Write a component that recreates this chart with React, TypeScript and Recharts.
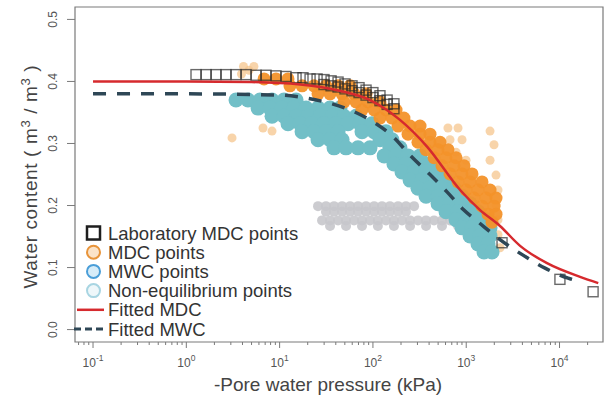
import { ComposedChart, Legend, Line, ReferenceArea, Scatter, XAxis, YAxis } from "recharts";

type Pt = [number, number];

// Each point: [-pore water pressure (kPa), water content (m3/m3)]
const labMdcPoints: Pt[] = [
  [1.27, 0.411], [1.63, 0.411], [2.08, 0.411], [2.66, 0.411], [3.41, 0.411],
  [4.37, 0.411], [5.59, 0.410], [7.15, 0.410], [9.14, 0.409], [11.7, 0.408],
  [15.0, 0.406], [17.8, 0.406], [21.2, 0.404], [25.2, 0.404], [29.9, 0.403],
  [35.6, 0.401], [42.3, 0.399], [50.2, 0.396], [59.7, 0.393], [71.0, 0.390],
  [84.4, 0.386], [100, 0.382], [119, 0.377], [142, 0.370], [168, 0.364],
  [29.9, 0.395], [35.6, 0.393], [42.3, 0.391], [50.2, 0.388], [59.7, 0.385],
  [71.0, 0.382], [84.4, 0.378], [100, 0.374], [119, 0.369], [142, 0.363],
  [168, 0.356], [2420, 0.140], [10100, 0.081], [22900, 0.061],
];

const mdcPoints: Pt[] = [
  [6.81, 0.404], [9.15, 0.404], [12.3, 0.404],
  [12.9, 0.393], [17.4, 0.393], [23.4, 0.393], [31.4, 0.393], [42.3, 0.393], [56.9, 0.393],
  [25.8, 0.380], [34.7, 0.380], [46.7, 0.380], [62.8, 0.380], [84.4, 0.380],
  [49.0, 0.367], [65.9, 0.367], [88.6, 0.367], [119, 0.367],
  [76.4, 0.354], [103, 0.354], [138, 0.354], [177, 0.354],
  [119, 0.341], [160, 0.341], [215, 0.341],
  [186, 0.328], [250, 0.328], [320, 0.328],
  [238, 0.315], [320, 0.315], [409, 0.315],
  [304, 0.302], [409, 0.302], [524, 0.302],
  [371, 0.290], [499, 0.290], [637, 0.290],
  [452, 0.277], [607, 0.277], [778, 0.277],
  [550, 0.264], [740, 0.264], [947, 0.264],
  [670, 0.251], [902, 0.251], [1154, 0.251],
  [817, 0.238], [1099, 0.238], [1477, 0.238],
  [995, 0.225], [1338, 0.225], [1800, 0.225],
  [1212, 0.212], [1630, 0.212], [2086, 0.212],
  [1477, 0.199], [1986, 0.199],
  [1713, 0.186], [2086, 0.186],
  [1890, 0.173],
];

// scattered MDC readings away from the main band
const mdcScattered: Pt[] = [
  [4.1, 0.424], [4.7, 0.418], [5.3, 0.424], [3.9, 0.412],
  [637, 0.325], [817, 0.325], [670, 0.306], [902, 0.306], [778, 0.286], [995, 0.273],
  [1800, 0.320], [1986, 0.298], [1800, 0.273], [2086, 0.249], [2192, 0.225],
  [2086, 0.201], [2192, 0.177], [2192, 0.153], [2303, 0.132],
  [6.64, 0.325], [8.29, 0.320], [3.09, 0.309],
];

const mwcPoints: Pt[] = [
  [3.41, 0.370], [4.58, 0.370], [6.17, 0.370], [8.29, 0.370], [11.15, 0.370], [15.0, 0.370],
  [5.87, 0.357], [7.89, 0.357], [10.6, 0.357], [14.3, 0.357], [19.2, 0.357], [25.8, 0.357], [34.7, 0.357], [44.4, 0.357],
  [8.29, 0.344], [11.15, 0.344], [15.0, 0.344], [20.2, 0.344], [27.1, 0.344], [36.4, 0.344], [49.0, 0.344], [65.9, 0.344],
  [12.3, 0.332], [16.6, 0.332], [22.2, 0.332], [29.9, 0.332], [40.2, 0.332], [54.1, 0.332], [72.8, 0.332], [97.8, 0.332],
  [17.4, 0.319], [23.4, 0.319], [31.4, 0.319], [42.3, 0.319], [76.4, 0.319], [103, 0.319], [138, 0.319],
  [25.8, 0.306], [34.7, 0.306], [46.7, 0.306], [119, 0.306], [160, 0.306],
  [38.3, 0.293], [51.5, 0.293], [69.2, 0.293], [93.1, 0.293], [152, 0.293], [195, 0.293],
  [132, 0.280], [177, 0.280], [238, 0.280], [320, 0.280],
  [168, 0.267], [226, 0.267], [304, 0.267], [409, 0.267],
  [205, 0.254], [276, 0.254], [371, 0.254], [499, 0.254],
  [250, 0.241], [336, 0.241], [452, 0.241], [607, 0.241],
  [304, 0.228], [409, 0.228], [550, 0.228], [740, 0.228],
  [371, 0.215], [499, 0.215], [670, 0.215], [902, 0.215],
  [499, 0.203], [670, 0.203], [902, 0.203], [1099, 0.203],
  [607, 0.190], [817, 0.190], [1099, 0.190], [1338, 0.190],
  [778, 0.177], [995, 0.177], [1274, 0.177], [1630, 0.177],
  [902, 0.164], [1154, 0.164], [1477, 0.164], [1800, 0.164],
  [1099, 0.151], [1406, 0.151], [1800, 0.151],
  [1338, 0.138], [1713, 0.138],
  [1552, 0.125], [1890, 0.125],
];

const nonEquilibriumPoints: Pt[] = [
  [25.8, 0.199], [31.4, 0.199], [38.3, 0.199], [46.7, 0.199], [56.9, 0.199], [69.2, 0.199], [84.4, 0.199],
  [103, 0.199], [125, 0.199], [152, 0.199], [186, 0.199], [226, 0.199], [276, 0.199],
  [31.4, 0.190], [38.3, 0.190], [46.7, 0.190], [56.9, 0.190], [69.2, 0.190], [84.4, 0.190],
  [103, 0.190], [125, 0.190], [152, 0.190], [186, 0.190], [226, 0.190],
  [28.5, 0.176], [34.7, 0.176], [42.3, 0.176], [51.5, 0.176], [62.8, 0.176], [76.4, 0.176],
  [93.1, 0.176], [113, 0.176], [138, 0.176], [168, 0.176], [205, 0.176], [250, 0.176],
  [304, 0.176], [371, 0.176], [452, 0.176], [550, 0.176], [670, 0.176], [817, 0.176],
  [995, 0.176], [1212, 0.176], [1477, 0.176], [1800, 0.176],
  [34.7, 0.167], [51.5, 0.167], [76.4, 0.167], [113, 0.167], [168, 0.167], [250, 0.167],
  [371, 0.167], [550, 0.167], [817, 0.167], [1212, 0.167], [1800, 0.167],
];

const fittedMdc: Pt[] = [
  [0.1, 0.400], [1, 0.400], [5, 0.399], [16.6, 0.395], [44, 0.385], [93, 0.370],
  [195, 0.338], [380, 0.295], [860, 0.225], [1400, 0.193], [2300, 0.167],
  [3780, 0.135], [7350, 0.107], [16600, 0.085], [26000, 0.075],
];

const fittedMwc: Pt[] = [
  [0.1, 0.380], [1, 0.380], [10, 0.378], [17.8, 0.374], [32.2, 0.366], [56.9, 0.354],
  [93, 0.338], [164, 0.311], [250, 0.281], [409, 0.250], [622, 0.222], [925, 0.194],
  [1407, 0.171], [2301, 0.145], [4060, 0.120], [7000, 0.099], [12340, 0.083], [16000, 0.078],
];

const majorTicks = [0.1, 1, 10, 100, 1000, 10000];
const minorTicks = [
  0.07, 0.08, 0.09, 0.2, 0.3, 0.4, 0.5, 0.6, 0.7, 0.8, 0.9,
  2, 3, 4, 5, 6, 7, 8, 9, 20, 30, 40, 50, 60, 70, 80, 90,
  200, 300, 400, 500, 600, 700, 800, 900,
  2000, 3000, 4000, 5000, 6000, 7000, 8000, 9000, 20000,
];
const thetaTicks = [0, 0.1, 0.2, 0.3, 0.4, 0.5];

const legendLabels = [
  "Laboratory MDC points",
  "MDC points",
  "MWC points",
  "Non-equilibrium points",
  "Fitted MDC",
  "Fitted MWC",
];

const X_DOMAIN: [number, number] = [0.0641, 29240];
const Y_DOMAIN: [number, number] = [-0.02, 0.52];
const FONT = "'Liberation Sans', Arial, Helvetica, sans-serif";
const AXIS_GREY = "#7a7a7a";

const rows = (pts: Pt[]) => pts.map(([p, w]) => ({ p, w }));

const dot = (r: number, fill: string, opacity: number) => (props: any) =>
  <circle cx={props.cx} cy={props.cy} r={r} fill={fill} fillOpacity={opacity} />;

const openSquare = (props: any) => (
  <rect x={props.cx - 5} y={props.cy - 5} width={10} height={10} fill="none" stroke="#2a2a2a" strokeOpacity={0.7} strokeWidth={1.4} />
);

function PressureTick(props: any) {
  const { x, y, payload } = props;
  const value: number = payload.value;
  const isMajor = majorTicks.includes(value);
  const exponent = Math.round(Math.log10(value));
  return (
    <g>
      <line x1={x} x2={x} y1={y} y2={y + (isMajor ? 6 : 3)} stroke={AXIS_GREY} />
      {isMajor && (
        <text x={x} y={y + 25} textAnchor="middle" fontSize={12} fill="#555" fontFamily={FONT}>
          10<tspan dy={-6} fontSize={8.5}>{exponent}</tspan>
        </text>
      )}
    </g>
  );
}

function ThetaTick(props: any) {
  const { x, y, payload } = props;
  const tx = x - 18;
  return (
    <g>
      <line x1={x - 8} x2={x} y1={y} y2={y} stroke={AXIS_GREY} />
      <text x={tx} y={y} transform={`rotate(-90 ${tx} ${y})`} textAnchor="middle" fontSize={12} fill="#555" fontFamily={FONT}>
        {payload.value.toFixed(1)}
      </text>
    </g>
  );
}

function PressureTitle() {
  return (
    <text x={328} y={391} textAnchor="middle" fontSize={19} fill="#444" fontFamily={FONT}>
      -Pore water pressure (kPa)
    </text>
  );
}

function ThetaTitle() {
  const cx = 37;
  const cy = 177;
  return (
    <text x={cx} y={cy} transform={`rotate(-90 ${cx} ${cy})`} textAnchor="middle" fontSize={19} fill="#444" fontFamily={FONT} textLength={223} lengthAdjust="spacing">
      Water content ( m<tspan dy={-7} fontSize={13}>3</tspan>
      <tspan dy={7}> / m</tspan>
      <tspan dy={-7} fontSize={13}>3</tspan>
      <tspan dy={7}> )</tspan>
    </text>
  );
}

function LegendIcon({ index, y }: { index: number; y: number }) {
  switch (index) {
    case 0:
      return <rect x={87} y={y - 6.5} width={13} height={13} fill="#fff" stroke="#1e1e1e" strokeWidth={2.5} />;
    case 1:
      return <circle cx={93.5} cy={y} r={6.5} fill="#fbe3c8" stroke="#e8943a" strokeWidth={2} />;
    case 2:
      return <circle cx={93.5} cy={y} r={6.5} fill="#d6ecf8" stroke="#4a9ed8" strokeWidth={2} />;
    case 3:
      return <circle cx={93.5} cy={y} r={6.5} fill="#eef7fa" stroke="#a8d5e2" strokeWidth={2} />;
    case 4:
      return <line x1={77} x2={104} y1={y} y2={y} stroke="#d62a2e" strokeWidth={2.5} />;
    default:
      return <line x1={74} x2={104} y1={y} y2={y} stroke="#2e4756" strokeWidth={3} strokeDasharray="7 4" />;
  }
}

function ChartKey() {
  return (
    <svg width={613} height={409} style={{ position: "absolute", left: 0, top: 0 }}>
      {legendLabels.map((label, i) => {
        const y = 233 + i * 19.2;
        return (
          <g key={label}>
            <LegendIcon index={i} y={y} />
            <text x={108} y={y + 6.5} fontSize={18.5} fill="#333" fontFamily={FONT}>
              {label}
            </text>
          </g>
        );
      })}
    </svg>
  );
}

export default function App() {
  return (
    <div style={{ position: "absolute", left: 0, top: 0, width: 613, height: 409, background: "#fff" }}>
      <ComposedChart width={613} height={409} margin={{ top: 7, right: 10, bottom: 0, left: 0 }}>
        <XAxis
          dataKey="p"
          type="number"
          scale="log"
          domain={X_DOMAIN}
          allowDataOverflow
          ticks={[...minorTicks, ...majorTicks]}
          interval={0}
          tick={<PressureTick />}
          tickLine={false}
          axisLine={false}
          tickSize={0}
          tickMargin={0}
          height={67}
          label={PressureTitle}
        />
        <YAxis
          dataKey="w"
          type="number"
          domain={Y_DOMAIN}
          allowDataOverflow
          ticks={thetaTicks}
          interval={0}
          tick={<ThetaTick />}
          tickLine={false}
          axisLine={false}
          tickSize={0}
          tickMargin={0}
          width={75}
          label={ThetaTitle}
        />
        <Scatter data={rows(nonEquilibriumPoints)} dataKey="w" shape={dot(5, "#c6c6cb", 0.9)} isAnimationActive={false} />
        <Scatter data={rows(mdcScattered)} dataKey="w" shape={dot(4.5, "#f5c68e", 0.75)} isAnimationActive={false} />
        <Scatter data={rows(mwcPoints)} dataKey="w" shape={dot(7.5, "#72bfc7", 1)} isAnimationActive={false} />
        <Scatter data={rows(mdcPoints)} dataKey="w" shape={dot(6.5, "#f3922a", 0.95)} isAnimationActive={false} />
        <Scatter data={rows(labMdcPoints)} dataKey="w" shape={openSquare} isAnimationActive={false} />
        <Line data={rows(fittedMdc)} dataKey="w" type="monotone" stroke="#d62a2e" strokeWidth={2.5} dot={false} activeDot={false} isAnimationActive={false} zIndex={700} />
        <Line data={rows(fittedMwc)} dataKey="w" type="monotone" stroke="#2e4756" strokeWidth={3.5} strokeDasharray="13 11" dot={false} activeDot={false} isAnimationActive={false} zIndex={710} />
        <ReferenceArea x1={X_DOMAIN[0]} x2={X_DOMAIN[1]} y1={Y_DOMAIN[0]} y2={Y_DOMAIN[1]} fill="none" stroke={AXIS_GREY} strokeWidth={1.2} ifOverflow="visible" zIndex={720} />
        <Legend
          layout="vertical"
          align="center"
          verticalAlign="middle"
          content={ChartKey}
          wrapperStyle={{ position: "absolute", left: 0, top: 0, width: 613, height: 409, pointerEvents: "none" }}
        />
      </ComposedChart>
    </div>
  );
}
